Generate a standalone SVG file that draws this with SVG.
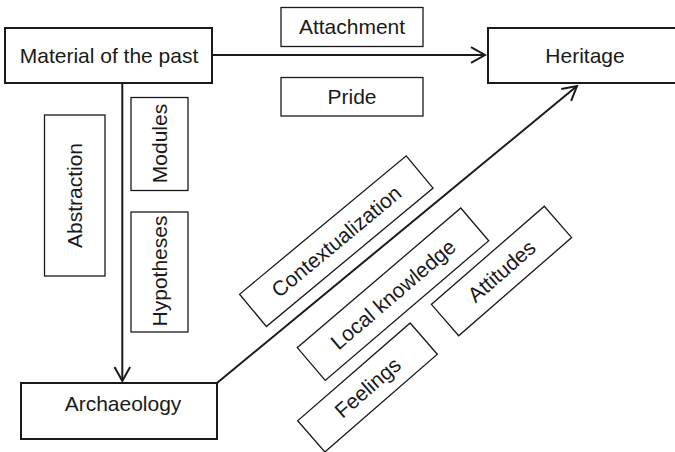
<svg xmlns="http://www.w3.org/2000/svg" width="675" height="452" viewBox="0 0 675 452">
<style>
  .main { fill: #fff; stroke: #1a1a1a; stroke-width: 2; }
  .lab { fill: #fff; stroke: #1a1a1a; stroke-width: 1.3; }
  .conn { fill: none; stroke: #1a1a1a; stroke-width: 2; }
  text { font-family: "Liberation Sans", Arial, sans-serif; font-size: 21px; fill: #1a1a1a; text-anchor: middle; }
</style>
<defs>
  <marker id="arr" markerUnits="userSpaceOnUse" markerWidth="24" markerHeight="24" viewBox="-18 -12 24 24" refX="0" refY="0" orient="auto" overflow="visible">
    <path d="M-14,-7.8 L0,0 L-14,7.8" fill="none" stroke="#1a1a1a" stroke-width="2"/>
  </marker>
</defs>
<rect width="675" height="452" fill="#fff"/>
<g id="connectors">
  <line class="conn" x1="212" y1="55" x2="485" y2="55" marker-end="url(#arr)"/>
  <line class="conn" x1="122.3" y1="83" x2="122.3" y2="381" marker-end="url(#arr)"/>
  <line class="conn" x1="217" y1="383" x2="577" y2="86" marker-end="url(#arr)"/>
</g>
<g id="material">
  <rect class="main" x="5" y="28" width="207" height="55"/>
  <text x="109" y="63">Material of the past</text>
</g>
<g id="heritage">
  <rect class="main" x="488" y="28" width="192" height="55"/>
  <text x="585" y="63">Heritage</text>
</g>
<g id="archaeology">
  <rect class="main" x="21" y="383" width="196" height="56"/>
  <text x="123" y="411">Archaeology</text>
</g>
<g id="attachment">
  <rect class="lab" x="281" y="7.5" width="142" height="39"/>
  <text x="352" y="33.5">Attachment</text>
</g>
<g id="pride">
  <rect class="lab" x="281" y="77.5" width="142" height="38.5"/>
  <text x="352" y="103.5">Pride</text>
</g>
<g id="modules">
  <rect class="lab" x="131" y="97.5" width="57" height="93"/>
  <text transform="translate(166.7,143.5) rotate(-90)">Modules</text>
</g>
<g id="hypotheses">
  <rect class="lab" x="131" y="212" width="57" height="120"/>
  <text transform="translate(166.7,271) rotate(-90)">Hypotheses</text>
</g>
<g id="abstraction">
  <rect class="lab" x="44.5" y="115" width="60.5" height="161"/>
  <text transform="translate(81.7,195.5) rotate(-90)">Abstraction</text>
</g>
<g id="contextualization" transform="translate(336.3,241.2) rotate(-39.7)">
  <rect class="lab" x="-108.3" y="-21" width="216.6" height="42"/>
  <text x="0" y="7.5">Contextualization</text>
</g>
<g id="localknowledge" transform="translate(393,294.2) rotate(-40.5)">
  <rect class="lab" x="-107.5" y="-21.5" width="215" height="43"/>
  <text x="0" y="7.5">Local knowledge</text>
</g>
<g id="attitudes" transform="translate(501.5,271) rotate(-41)">
  <rect class="lab" x="-74.8" y="-20.8" width="149.6" height="41.6"/>
  <text x="0" y="7.5">Attitudes</text>
</g>
<g id="feelings" transform="translate(367.5,387.5) rotate(-41)">
  <rect class="lab" x="-74.5" y="-20.7" width="149" height="41.4"/>
  <text x="0" y="7.5">Feelings</text>
</g>
</svg>
